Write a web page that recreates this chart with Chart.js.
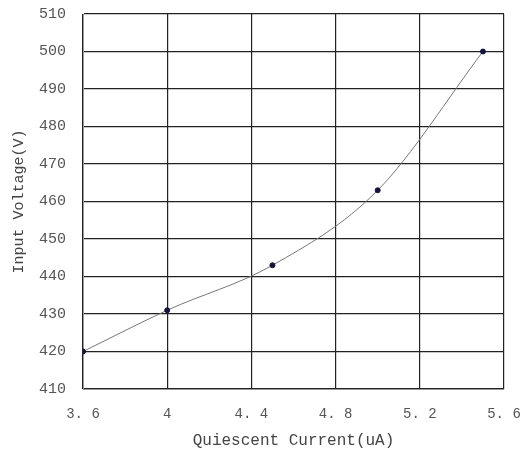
<!DOCTYPE html>
<html>
<head>
<meta charset="utf-8">
<script src="https://cdn.jsdelivr.net/npm/chart.js@4"></script>
<style>
  html, body { margin: 0; padding: 0; background: #fff; }
  #wrap { width: 521px; height: 456px; }
</style>
</head>
<body>
<div id="wrap"><canvas id="the-chart" width="521" height="456"></canvas></div>
<script>
// Quiescent current vs input voltage
const currents = [3.6, 4, 4.5, 5, 5.5];
const voltages = [420, 431, 443, 463, 500];
const xTicks = [3.6, 4, 4.4, 4.8, 5.2, 5.6];
const yTicks = [410, 420, 430, 440, 450, 460, 470, 480, 490, 500, 510];

const labelColor = '#555';

const ctx = document.getElementById('the-chart');
const theChart = new Chart(ctx, {
  type: 'line',
  data: {
    datasets: [{
      data: currents.map((c, i) => ({ x: c, y: voltages[i] })),
      borderColor: '#777',
      borderWidth: 1,
      pointBackgroundColor: '#14143c',
      pointBorderColor: '#14143c',
      pointRadius: 2.5,
      cubicInterpolationMode: 'monotone',
      fill: false
    }]
  },
  options: {
    responsive: false,
    animation: false,
    layout: { padding: { top: 14, right: 17, left: 0, bottom: 0 } },
    plugins: { legend: { display: false }, tooltip: { enabled: false } },
    scales: {
      x: {
        type: 'linear',
        min: 3.6,
        max: 5.6,
        afterBuildTicks: (axis) => { axis.ticks = xTicks.map((v) => ({ value: v })); },
        afterFit: (axis) => {
          axis.height = 67;
          axis.paddingLeft = 0;
          axis.paddingRight = 0;
        },
        ticks: {
          font: { family: 'Liberation Mono', size: 14 },
          color: labelColor,
          padding: 17,
          maxRotation: 0,
          callback: (v) => String(v).replace('.', '. ')
        },
        grid: { color: '#222', lineWidth: 1.2, drawTicks: false },
        border: { color: '#999', width: 1 },
        title: {
          display: true,
          text: 'Quiescent Current(uA)',
          font: { family: 'Liberation Mono', size: 16 },
          color: '#444',
          padding: { top: 4, bottom: 6 }
        }
      },
      y: {
        min: 410,
        max: 510,
        afterBuildTicks: (axis) => { axis.ticks = yTicks.map((v) => ({ value: v })); },
        afterFit: (axis) => {
          axis.width = 83;
          axis.paddingTop = 0;
          axis.paddingBottom = 0;
        },
        ticks: { font: { family: 'Liberation Mono', size: 15 }, color: labelColor, padding: 17 },
        grid: { color: '#222', lineWidth: 1.2, drawTicks: false },
        border: { color: '#999', width: 1 },
        title: {
          display: true,
          text: 'Input Voltage(V)',
          font: { family: 'Liberation Mono', size: 15 },
          color: '#444',
          padding: { top: 10, bottom: 4 }
        }
      }
    }
  }
});
</script>
</body>
</html>
